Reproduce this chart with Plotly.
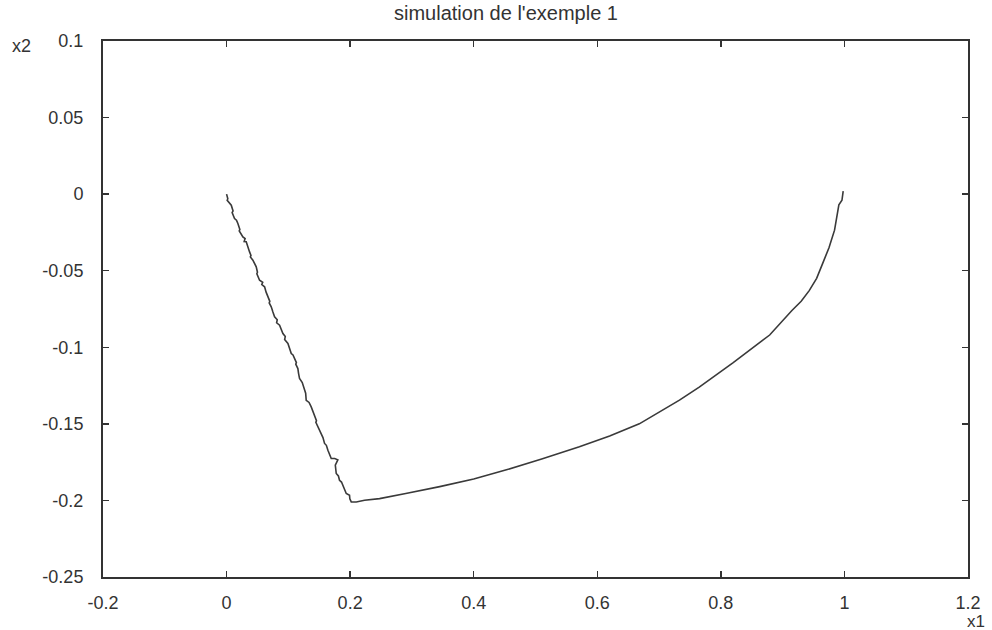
import plotly.graph_objects as go

# Trajectory (x1, x2)
x1_vals = [0.000, 0.002, 0.001, 0.005, 0.0076, 0.0105, 0.009, 0.0129, 0.0160, 0.0183,
           0.0215, 0.0205, 0.0264, 0.0300, 0.0285, 0.0318, 0.0345, 0.0372, 0.0395, 0.0385,
           0.0426, 0.0455, 0.0480, 0.0500, 0.0490, 0.0534, 0.0585, 0.0570, 0.0615, 0.0640,
           0.0669, 0.0700, 0.0690, 0.0723, 0.0750, 0.0777, 0.0820, 0.0810, 0.0858, 0.0885,
           0.0912, 0.0950, 0.0940, 0.0993, 0.1020, 0.1047, 0.1075, 0.1100, 0.1130, 0.1120,
           0.1154, 0.1165, 0.1181, 0.1225, 0.1262, 0.1280, 0.1289, 0.1335, 0.1370, 0.1395,
           0.1424, 0.1455, 0.1445, 0.1478, 0.1505, 0.1532, 0.1560, 0.1586, 0.1615, 0.1640,
           0.1665, 0.1694, 0.1750, 0.1801, 0.1760, 0.1775, 0.1810, 0.1828, 0.1860, 0.1882,
           0.1910, 0.1937, 0.1990, 0.1995, 0.2018, 0.2099, 0.2233, 0.2476,
           0.290, 0.345, 0.400, 0.453, 0.510, 0.571, 0.620, 0.668, 0.733, 0.765,
           0.820, 0.879, 0.915, 0.930, 0.943, 0.955, 0.964, 0.975, 0.984, 0.989,
           0.991, 0.996, 0.998, 0.998]
x2_vals = [0.000, -0.003, -0.004, -0.006, -0.0072, -0.011, -0.012, -0.0159, -0.017, -0.0192,
           -0.023, -0.024, -0.0279, -0.029, -0.031, -0.0311, -0.035, -0.0377, -0.040, -0.041,
           -0.0431, -0.045, -0.0475, -0.051, -0.052, -0.0562, -0.0575, -0.059, -0.0605, -0.064,
           -0.0671, -0.070, -0.071, -0.0736, -0.077, -0.0801, -0.082, -0.084, -0.0856, -0.088,
           -0.0910, -0.093, -0.095, -0.0975, -0.101, -0.1041, -0.105, -0.1073, -0.110, -0.111,
           -0.1139, -0.117, -0.1204, -0.123, -0.1269, -0.130, -0.1346, -0.136, -0.1389, -0.142,
           -0.1455, -0.148, -0.149, -0.1520, -0.154, -0.1563, -0.159, -0.1628, -0.164, -0.1672,
           -0.170, -0.1726, -0.1726, -0.1735, -0.177, -0.1824, -0.184, -0.1868, -0.188, -0.1901,
           -0.193, -0.1955, -0.1966, -0.199, -0.2010, -0.2010, -0.1999, -0.1988,
           -0.1955, -0.191, -0.1860, -0.180, -0.173, -0.165, -0.158, -0.150, -0.1345, -0.126,
           -0.110, -0.092, -0.076, -0.070, -0.063, -0.055, -0.046, -0.035, -0.0235, -0.0105,
           -0.007, -0.004, 0.000, 0.002]

x_tickvals = [-0.2, 0, 0.2, 0.4, 0.6, 0.8, 1.0, 1.2]
x_ticktext = ["-0.2", "0", "0.2", "0.4", "0.6", "0.8", "1", "1.2"]
y_tickvals = [-0.25, -0.2, -0.15, -0.1, -0.05, 0, 0.05, 0.1]
y_ticktext = ["-0.25", "-0.2", "-0.15", "-0.1", "-0.05", "0", "0.05", "0.1"]

title_text = "simulation de l'exemple 1"

ink = "#333333"
font_family = "Liberation Sans, Arial, sans-serif"

fig = go.Figure()
fig.add_trace(go.Scatter(x=x1_vals, y=x2_vals, mode="lines",
                         line=dict(color="#3a3a3a", width=1.6),
                         showlegend=False, hoverinfo="skip"))

axis_common = dict(showgrid=False, zeroline=False, showline=True, linecolor=ink,
                   linewidth=2, mirror="ticks", ticks="inside", ticklen=6,
                   tickcolor=ink, tickwidth=1.5,
                   tickfont=dict(family=font_family, size=18, color=ink))

fig.update_xaxes(range=[-0.2, 1.2], tickvals=x_tickvals, ticktext=x_ticktext,
                 ticklabelstandoff=8, **axis_common)
fig.update_yaxes(range=[-0.25, 0.1], tickvals=y_tickvals, ticktext=y_ticktext,
                 ticklabelstandoff=14, **axis_common)

# frame in window pixels: x 103..968, y 41..577
fig.add_annotation(text=title_text, xref="paper", yref="paper",
                   x=(506 - 103) / 865, y=(577 - 13) / 536, showarrow=False,
                   xanchor="center", yanchor="middle",
                   font=dict(family=font_family, size=20, color=ink))
fig.add_annotation(text="x1", xref="paper", yref="paper",
                   x=(976 - 103) / 865, y=(577 - 621) / 536, showarrow=False,
                   xanchor="center", yanchor="middle",
                   font=dict(family=font_family, size=17, color=ink))
fig.add_annotation(text="x2", xref="paper", yref="paper",
                   x=(21 - 103) / 865, y=(577 - 46) / 536, showarrow=False,
                   xanchor="center", yanchor="middle",
                   font=dict(family=font_family, size=18, color=ink))

fig.update_layout(width=992, height=630,
                  margin=dict(l=103, r=24, t=41, b=53),
                  paper_bgcolor="white", plot_bgcolor="white",
                  hovermode=False)

fig.write_html(
    "out.html",
    config={"displayModeBar": False, "staticPlot": True},
    post_script="document.body.style.margin='0';"
                "document.body.style.overflow='hidden';"
                "document.documentElement.style.overflow='hidden';",
)
